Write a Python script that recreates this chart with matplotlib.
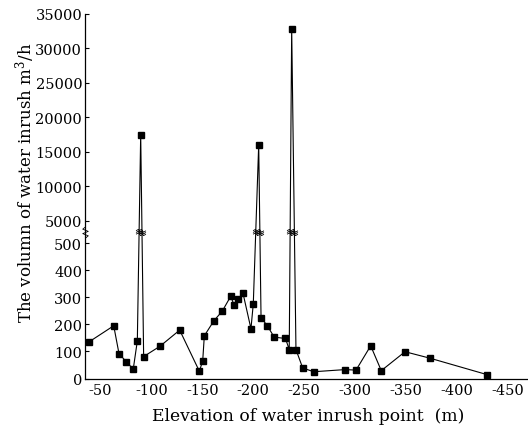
import numpy as np
import matplotlib
matplotlib.use("Agg")
import matplotlib.pyplot as plt
from matplotlib.path import Path

plt.rcParams['font.family'] = ['DejaVu Serif']
plt.rcParams['axes.unicode_minus'] = False
plt.rcParams['mathtext.fontset'] = 'dejavuserif'

# ---- data (elevation m, inflow m3/h) ----
elevation = [-38.9, -62.9, -68.1, -75.2, -82.1, -86.1, -89.4, -92.3, -108.6, -127.7,
             -147.0, -150.3, -151.9, -161.4, -169.5, -177.8, -181.0, -185.3, -189.9,
             -197.7, -200.0, -205.3, -207.6, -213.8, -220.5, -231.6, -235.3, -237.7,
             -241.9, -248.5, -259.3, -290.4, -300.9, -315.3, -325.7, -349.0, -373.6,
             -429.9]
volume = [136, 195, 92, 62, 35, 139, 17500, 81, 120, 179,
          27, 65, 158, 214, 249, 304, 273, 294, 315,
          184, 277, 16000, 225, 195, 153, 148, 107, 32800,
          107, 39, 25, 33, 31, 121, 29, 99, 75,
          14]
xticks = [-50, -100, -150, -200, -250, -300, -350, -400, -450]
yticks = [0, 100, 200, 300, 400, 500, 5000, 10000, 15000, 20000, 25000, 30000, 35000]

# ---- broken y scale ----
LO, HI, EPS = 541.0, 3362.0, 0.5
K = 0.0069 / 0.2704


def fwd(v):
    v = np.asarray(v, dtype=float)
    return np.where(v <= LO, v,
                    np.where(v <= HI, LO + (v - LO) / (HI - LO) * EPS,
                             LO + EPS + (v - HI) * K))


def inv(u):
    u = np.asarray(u, dtype=float)
    return np.where(u <= LO, u,
                    np.where(u <= LO + EPS, LO + (u - LO) / EPS * (HI - LO),
                             HI + (u - LO - EPS) / K))


fig = plt.figure(figsize=(5.28, 4.27), dpi=100)
ax = fig.add_axes([85 / 528, 47.5 / 427, 1 - 85 / 528, (379.5 - 14.8) / 427])
ax.set_yscale('function', functions=(fwd, inv))

ax.plot(elevation, volume, color='black', lw=0.8, marker='s', ms=4.3,
        mfc='black', mec='black', zorder=3)

ax.set_xlim(-34.7, -469.8)
ax.set_ylim(0, 35000)
ax.set_xticks(xticks)
ax.set_xticklabels([str(t) for t in xticks])
ax.set_yticks(yticks)
ax.set_yticklabels([str(t) for t in yticks])
ax.yaxis.set_minor_locator(matplotlib.ticker.NullLocator())
ax.tick_params(axis='x', length=0, pad=3, labelsize=10.5)
ax.tick_params(axis='y', direction='in', length=3, width=0.8, pad=2, labelsize=10.5)
for s in ['top', 'right']:
    ax.spines[s].set_visible(False)
for s in ['left', 'bottom']:
    ax.spines[s].set_linewidth(0.9)

# break markers on lines
zig_h = Path([(-1, 0.5), (-0.3, 0.9), (0.3, 0.1), (1, 0.5),
              (-1, 0.0), (-0.3, 0.4), (0.3, -0.4), (1, 0.0),
              (-1, -0.5), (-0.3, -0.1), (0.3, -0.9), (1, -0.5)],
             [Path.MOVETO, Path.LINETO, Path.LINETO, Path.LINETO] * 3)
zig_v = Path([(0, -1), (0.5, -0.6), (-0.5, -0.2), (0.5, 0.2), (-0.5, 0.6), (0, 1)],
             [Path.MOVETO] + [Path.LINETO] * 5)
fb = fwd(LO)
xs = []
for i in range(len(volume) - 1):
    y0, y1 = fwd(volume[i]), fwd(volume[i + 1])
    if (y0 - fb) * (y1 - fb) < 0:
        t = (fb - y0) / (y1 - y0)
        xs.append(elevation[i] + t * (elevation[i + 1] - elevation[i]))
ax.plot(xs, [LO] * len(xs), ls='none', marker=zig_h, ms=5, mew=0.6,
        mec='black', mfc='none', zorder=4)
ax.plot([0], [LO], ls='none', marker=zig_v, ms=8, mew=0.6, mec='black',
        mfc='none', zorder=4,
        transform=matplotlib.transforms.blended_transform_factory(ax.transAxes, ax.transData),
        clip_on=False)

fig.text(25 / 528, 1 - 183 / 427, 'The volumn of water inrush m$^3$/h', rotation=90,
         ha='center', va='center', fontsize=12)
fig.text(308 / 528, 1 - 416.7 / 427, 'Elevation of water inrush point  (m)',
         ha='center', va='center', fontsize=12.3)

fig.savefig('out.png', dpi=100)
